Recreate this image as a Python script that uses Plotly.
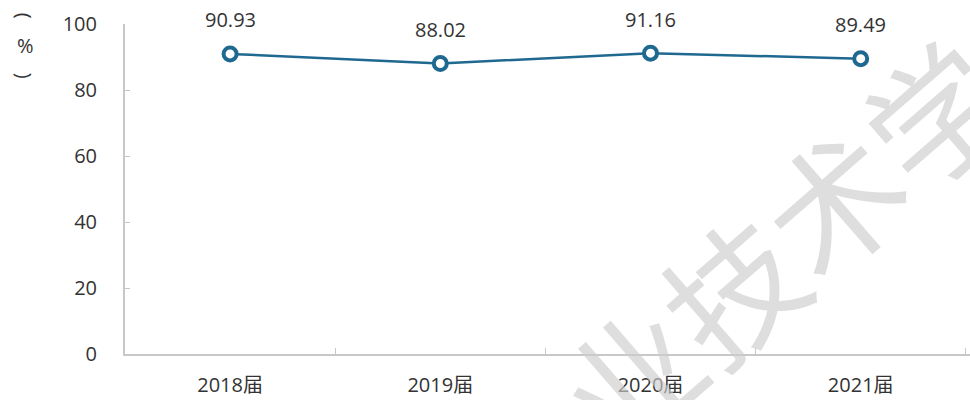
import plotly.graph_objects as go

# Graduation cohorts and rate (%)
cohorts = ["2018届", "2019届", "2020届", "2021届"]
rates = [90.93, 88.02, 91.16, 89.49]
y_ticks = [0, 20, 40, 60, 80, 100]

line_color = "#1f6991"
text_color = "#333333"
axis_color = "#c8c8c8"
font_family = "Open Sans, Noto Sans CJK SC, sans-serif"

fig = go.Figure()
fig.add_trace(go.Scatter(
    x=cohorts,
    y=rates,
    mode="lines+markers",
    line=dict(color=line_color, width=2.5),
    marker=dict(size=13, color="white", line=dict(color=line_color, width=4)),
    cliponaxis=False,
    hoverinfo="skip",
))

annotations = []

# Light diagonal watermark (drawn first so it sits under the labels)
annotations.append(dict(
    x=0.776, y=0.335, xref="paper", yref="paper", text="业技术学",
    showarrow=False, textangle=-41, xanchor="center", yanchor="middle",
    font=dict(size=134, color="rgba(205,205,205,0.65)", family="Noto Sans CJK SC"),
))

# Value labels above each point
for c, v in zip(cohorts, rates):
    annotations.append(dict(
        x=c, y=v, xref="x", yref="y", text=f"{v:.2f}", showarrow=False,
        yshift=34, font=dict(size=20, color=text_color, family=font_family),
    ))

# Vertical unit label: rotated brackets around an upright percent sign
unit_parts = [("(", 1.024, 90), ("%", 0.936, 0), (")", 0.842, 90)]
for txt, ypos, ang in unit_parts:
    annotations.append(dict(
        x=-0.118, y=ypos, xref="paper", yref="paper", text=txt,
        showarrow=False, xanchor="center", yanchor="middle", textangle=ang,
        font=dict(size=20, color=text_color, family=font_family),
    ))

fig.update_layout(
    width=970,
    height=400,
    margin=dict(l=125, r=0, t=24, b=46),
    paper_bgcolor="white",
    plot_bgcolor="white",
    showlegend=False,
    annotations=annotations,
    font=dict(family=font_family, size=20, color=text_color),
)

fig.update_xaxes(
    type="category",
    range=[-0.5, 3.52],
    showline=True, linecolor=axis_color, linewidth=2,
    showgrid=False, zeroline=False,
    ticks="inside", tickson="boundaries", ticklen=6, tickcolor=axis_color, tickwidth=1,
    ticklabelstandoff=12,
    tickfont=dict(size=20, color=text_color, family=font_family),
)
fig.update_yaxes(
    range=[0, 100],
    tickvals=y_ticks,
    showline=True, linecolor=axis_color, linewidth=2,
    showgrid=False, zeroline=False,
    ticks="inside", ticklen=5, tickcolor=axis_color, tickwidth=1,
    ticklabelstandoff=22,
    tickfont=dict(size=20, color=text_color, family=font_family),
)

fig.write_html("out.html")
